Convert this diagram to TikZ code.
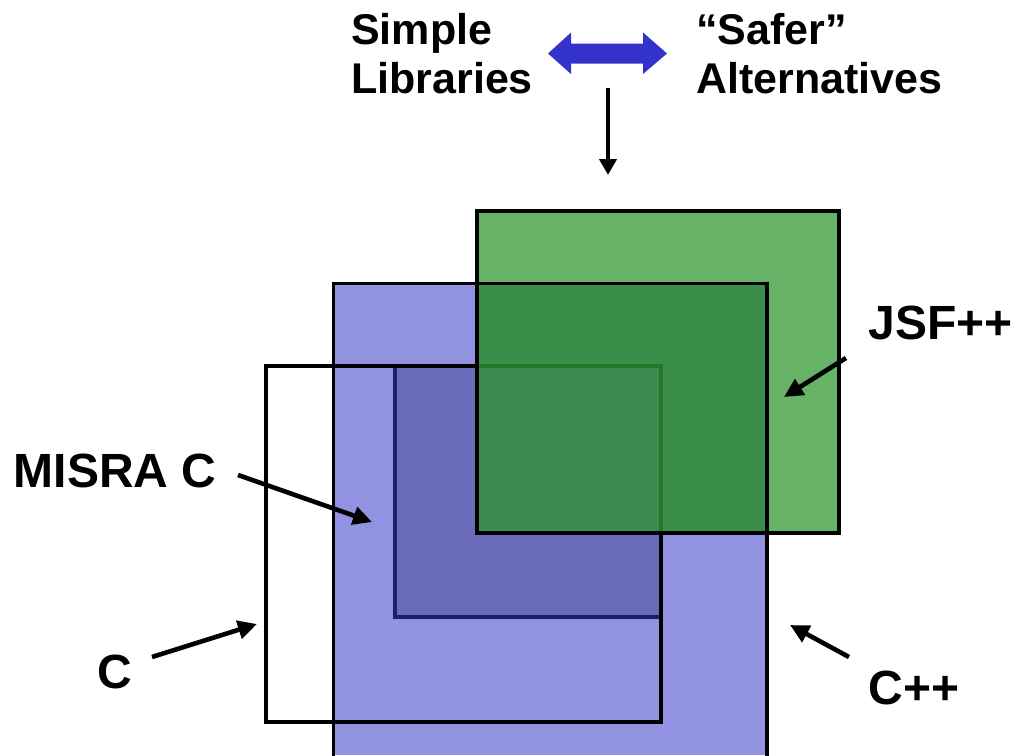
\documentclass[tikz,border=0pt]{standalone}
\usepackage{fontspec}
\setmainfont{Liberation Sans}
\usetikzlibrary{arrows.meta}
\definecolor{lgreen}{RGB}{102,178,102}
\definecolor{dgreen}{RGB}{58,142,74}
\definecolor{dgreenb}{RGB}{61,138,82}
\definecolor{gline}{RGB}{38,118,42}
\definecolor{cppfill}{RGB}{146,146,226}
\definecolor{misrafill}{RGB}{107,107,188}
\definecolor{navyline}{RGB}{30,30,110}
\definecolor{arrowblue}{RGB}{51,51,204}
\begin{document}
\begin{tikzpicture}[x=1pt,y=-1pt,
  lbl/.style={font=\fontsize{48}{52}\selectfont\bfseries, inner sep=0pt, anchor=base west},
  toplbl/.style={font=\fontsize{43}{49}\selectfont\bfseries, inner sep=0pt, anchor=north west, align=left},
  border/.style={line width=3.3pt},
  ptr/.style={line width=4.6pt, -{Triangle[length=19pt,width=18pt]}},
  downptr/.style={line width=4pt, -{Triangle[length=16pt,width=17pt]}},
]
\useasboundingbox (0,0) rectangle (1020,755);
% green (JSF++) base fill
\fill[lgreen] (477,211) rectangle (839,533);
% C++ fill
\fill[cppfill] (333.7,283.7) rectangle (767,755);
% MISRA C
\fill[misrafill] (395,366) rectangle (661,617);
\draw[border, navyline] (395,366) -- (395,617) -- (661,617);
% C outline
\draw[border] (266,366) rectangle (661,722);
% overlap of JSF++ and C++
\fill[dgreen] (477,283.7) rectangle (767,533);
\fill[dgreenb] (477,366) rectangle (661,533);
\draw[border, gline] (477,366) -- (661,366) -- (661,533);
% borders on top
\draw[border] (333.7,756) -- (333.7,283.7) -- (767,283.7) -- (767,756);
\draw[border] (477,211) rectangle (839,533);
% blue double arrow
\fill[arrowblue] (548,53.5) -- (571,32.5) -- (571,43.5) -- (643,43.5) -- (643,32.5)
  -- (667,53.5) -- (643,74) -- (643,63.5) -- (571,63.5) -- (571,74) -- cycle;
% texts
\node[toplbl] (simple) at (351,13) {Simple\\Libraries};
\node[toplbl] (safer) at (696,13) {“Safer”\\Alternatives};
\node[lbl] (jsf) at (868.5,339) {JSF++};
\node[lbl] (misra) at (13.6,487) {MISRA C};
\node[lbl] (c) at (97.6,688) {C};
\node[lbl] (cpp) at (868.6,704) {C++};
% arrow end points
\coordinate (downA) at (608,88);
\coordinate (downB) at (608,175);
\coordinate (jsfA) at (846,358);
\coordinate (jsfB) at (784,397);
\coordinate (misraA) at (238,475);
\coordinate (misraB) at (372,522);
\coordinate (cA) at (152,657);
\coordinate (cB) at (257,624);
\coordinate (cppA) at (849,657);
\coordinate (cppB) at (790,625);
\draw[downptr] (downA) -- (downB);
\draw[ptr] (jsfA) -- (jsfB);
\draw[ptr] (misraA) -- (misraB);
\draw[ptr] (cA) -- (cB);
\draw[ptr] (cppA) -- (cppB);
\end{tikzpicture}
\end{document}
